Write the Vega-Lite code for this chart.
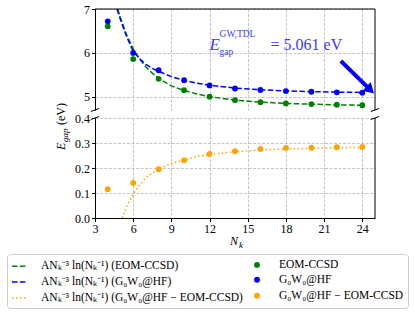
{
  "$schema": "https://vega.github.io/schema/vega-lite/v6.json",
  "padding": {"left": 6, "top": 3, "right": 6, "bottom": 6},
  "spacing": 8,
  "bounds": "flush",
  "config": {
    "view": {"stroke": null},
    "axis": {"labelFont": "Liberation Serif", "labelFontSize": 12, "labelColor": "#000", "tickColor": "#000", "domainColor": "#000", "gridColor": "#b8b8b8", "gridDash": [3, 1.5], "gridWidth": 0.8, "tickSize": 3.5, "labelPadding": 2, "labelOverlap": false, "labelFlush": false},
    "legend": {"orient": "none", "legendX": -88, "legendY": 245, "columns": 2, "labelFont": "Liberation Serif", "labelFontSize": 11.5, "labelColor": "#000", "labelLimit": 400, "labelOffset": 14, "rowPadding": 1, "columnPadding": 6, "padding": 4, "strokeColor": "#cccccc", "fillColor": "#ffffff", "cornerRadius": 3, "symbolStrokeWidth": 1.5, "symbolOpacity": 1}
  },
  "datasets": {
    "fitTop": [
      {"Nk": 4.78, "E": 7.0, "series": "ANₖ⁻³ ln(Nₖ⁻¹) (EOM-CCSD)"},
      {"Nk": 5.0, "E": 6.8, "series": "ANₖ⁻³ ln(Nₖ⁻¹) (EOM-CCSD)"},
      {"Nk": 5.5, "E": 6.4, "series": "ANₖ⁻³ ln(Nₖ⁻¹) (EOM-CCSD)"},
      {"Nk": 6.0, "E": 6.09, "series": "ANₖ⁻³ ln(Nₖ⁻¹) (EOM-CCSD)"},
      {"Nk": 6.5, "E": 5.86, "series": "ANₖ⁻³ ln(Nₖ⁻¹) (EOM-CCSD)"},
      {"Nk": 7.0, "E": 5.68, "series": "ANₖ⁻³ ln(Nₖ⁻¹) (EOM-CCSD)"},
      {"Nk": 7.5, "E": 5.54, "series": "ANₖ⁻³ ln(Nₖ⁻¹) (EOM-CCSD)"},
      {"Nk": 8, "E": 5.42, "series": "ANₖ⁻³ ln(Nₖ⁻¹) (EOM-CCSD)"},
      {"Nk": 9, "E": 5.25, "series": "ANₖ⁻³ ln(Nₖ⁻¹) (EOM-CCSD)"},
      {"Nk": 10, "E": 5.145, "series": "ANₖ⁻³ ln(Nₖ⁻¹) (EOM-CCSD)"},
      {"Nk": 11, "E": 5.065, "series": "ANₖ⁻³ ln(Nₖ⁻¹) (EOM-CCSD)"},
      {"Nk": 12, "E": 5.005, "series": "ANₖ⁻³ ln(Nₖ⁻¹) (EOM-CCSD)"},
      {"Nk": 14, "E": 4.925, "series": "ANₖ⁻³ ln(Nₖ⁻¹) (EOM-CCSD)"},
      {"Nk": 16, "E": 4.879, "series": "ANₖ⁻³ ln(Nₖ⁻¹) (EOM-CCSD)"},
      {"Nk": 18, "E": 4.85, "series": "ANₖ⁻³ ln(Nₖ⁻¹) (EOM-CCSD)"},
      {"Nk": 20, "E": 4.832, "series": "ANₖ⁻³ ln(Nₖ⁻¹) (EOM-CCSD)"},
      {"Nk": 22, "E": 4.818, "series": "ANₖ⁻³ ln(Nₖ⁻¹) (EOM-CCSD)"},
      {"Nk": 24, "E": 4.808, "series": "ANₖ⁻³ ln(Nₖ⁻¹) (EOM-CCSD)"},
      {"Nk": 4.73, "E": 7.0, "series": "ANₖ⁻³ ln(Nₖ⁻¹) (G₀W₀@HF)"},
      {"Nk": 5.0, "E": 6.76, "series": "ANₖ⁻³ ln(Nₖ⁻¹) (G₀W₀@HF)"},
      {"Nk": 5.5, "E": 6.36, "series": "ANₖ⁻³ ln(Nₖ⁻¹) (G₀W₀@HF)"},
      {"Nk": 6.0, "E": 6.04, "series": "ANₖ⁻³ ln(Nₖ⁻¹) (G₀W₀@HF)"},
      {"Nk": 6.5, "E": 5.87, "series": "ANₖ⁻³ ln(Nₖ⁻¹) (G₀W₀@HF)"},
      {"Nk": 7.0, "E": 5.74, "series": "ANₖ⁻³ ln(Nₖ⁻¹) (G₀W₀@HF)"},
      {"Nk": 7.5, "E": 5.65, "series": "ANₖ⁻³ ln(Nₖ⁻¹) (G₀W₀@HF)"},
      {"Nk": 8, "E": 5.58, "series": "ANₖ⁻³ ln(Nₖ⁻¹) (G₀W₀@HF)"},
      {"Nk": 9, "E": 5.46, "series": "ANₖ⁻³ ln(Nₖ⁻¹) (G₀W₀@HF)"},
      {"Nk": 10, "E": 5.375, "series": "ANₖ⁻³ ln(Nₖ⁻¹) (G₀W₀@HF)"},
      {"Nk": 11, "E": 5.31, "series": "ANₖ⁻³ ln(Nₖ⁻¹) (G₀W₀@HF)"},
      {"Nk": 12, "E": 5.265, "series": "ANₖ⁻³ ln(Nₖ⁻¹) (G₀W₀@HF)"},
      {"Nk": 14, "E": 5.2, "series": "ANₖ⁻³ ln(Nₖ⁻¹) (G₀W₀@HF)"},
      {"Nk": 16, "E": 5.16, "series": "ANₖ⁻³ ln(Nₖ⁻¹) (G₀W₀@HF)"},
      {"Nk": 18, "E": 5.135, "series": "ANₖ⁻³ ln(Nₖ⁻¹) (G₀W₀@HF)"},
      {"Nk": 20, "E": 5.118, "series": "ANₖ⁻³ ln(Nₖ⁻¹) (G₀W₀@HF)"},
      {"Nk": 22, "E": 5.107, "series": "ANₖ⁻³ ln(Nₖ⁻¹) (G₀W₀@HF)"},
      {"Nk": 24, "E": 5.1, "series": "ANₖ⁻³ ln(Nₖ⁻¹) (G₀W₀@HF)"}
    ],
    "ptsTop": [
      {"Nk": 4, "E": 6.605, "series": "EOM-CCSD"},
      {"Nk": 6, "E": 5.86, "series": "EOM-CCSD"},
      {"Nk": 8, "E": 5.41, "series": "EOM-CCSD"},
      {"Nk": 10, "E": 5.15, "series": "EOM-CCSD"},
      {"Nk": 12, "E": 5.004, "series": "EOM-CCSD"},
      {"Nk": 14, "E": 4.923, "series": "EOM-CCSD"},
      {"Nk": 16, "E": 4.879, "series": "EOM-CCSD"},
      {"Nk": 18, "E": 4.85, "series": "EOM-CCSD"},
      {"Nk": 20, "E": 4.834, "series": "EOM-CCSD"},
      {"Nk": 22, "E": 4.82, "series": "EOM-CCSD"},
      {"Nk": 24, "E": 4.81, "series": "EOM-CCSD"},
      {"Nk": 4, "E": 6.72, "series": "G₀W₀@HF"},
      {"Nk": 6, "E": 6.0, "series": "G₀W₀@HF"},
      {"Nk": 8, "E": 5.605, "series": "G₀W₀@HF"},
      {"Nk": 10, "E": 5.38, "series": "G₀W₀@HF"},
      {"Nk": 12, "E": 5.26, "series": "G₀W₀@HF"},
      {"Nk": 14, "E": 5.19, "series": "G₀W₀@HF"},
      {"Nk": 16, "E": 5.155, "series": "G₀W₀@HF"},
      {"Nk": 18, "E": 5.13, "series": "G₀W₀@HF"},
      {"Nk": 20, "E": 5.115, "series": "G₀W₀@HF"},
      {"Nk": 22, "E": 5.103, "series": "G₀W₀@HF"},
      {"Nk": 24, "E": 5.095, "series": "G₀W₀@HF"}
    ],
    "fitDiff": [
      {"Nk": 5.14, "E": 0.0, "series": "ANₖ⁻³ ln(Nₖ⁻¹) (G₀W₀@HF − EOM-CCSD)"},
      {"Nk": 5.5, "E": 0.048, "series": "ANₖ⁻³ ln(Nₖ⁻¹) (G₀W₀@HF − EOM-CCSD)"},
      {"Nk": 6.0, "E": 0.095, "series": "ANₖ⁻³ ln(Nₖ⁻¹) (G₀W₀@HF − EOM-CCSD)"},
      {"Nk": 6.5, "E": 0.132, "series": "ANₖ⁻³ ln(Nₖ⁻¹) (G₀W₀@HF − EOM-CCSD)"},
      {"Nk": 7.0, "E": 0.161, "series": "ANₖ⁻³ ln(Nₖ⁻¹) (G₀W₀@HF − EOM-CCSD)"},
      {"Nk": 7.5, "E": 0.18, "series": "ANₖ⁻³ ln(Nₖ⁻¹) (G₀W₀@HF − EOM-CCSD)"},
      {"Nk": 8, "E": 0.195, "series": "ANₖ⁻³ ln(Nₖ⁻¹) (G₀W₀@HF − EOM-CCSD)"},
      {"Nk": 9, "E": 0.218, "series": "ANₖ⁻³ ln(Nₖ⁻¹) (G₀W₀@HF − EOM-CCSD)"},
      {"Nk": 10, "E": 0.233, "series": "ANₖ⁻³ ln(Nₖ⁻¹) (G₀W₀@HF − EOM-CCSD)"},
      {"Nk": 11, "E": 0.246, "series": "ANₖ⁻³ ln(Nₖ⁻¹) (G₀W₀@HF − EOM-CCSD)"},
      {"Nk": 12, "E": 0.254, "series": "ANₖ⁻³ ln(Nₖ⁻¹) (G₀W₀@HF − EOM-CCSD)"},
      {"Nk": 14, "E": 0.265, "series": "ANₖ⁻³ ln(Nₖ⁻¹) (G₀W₀@HF − EOM-CCSD)"},
      {"Nk": 16, "E": 0.272, "series": "ANₖ⁻³ ln(Nₖ⁻¹) (G₀W₀@HF − EOM-CCSD)"},
      {"Nk": 18, "E": 0.276, "series": "ANₖ⁻³ ln(Nₖ⁻¹) (G₀W₀@HF − EOM-CCSD)"},
      {"Nk": 20, "E": 0.279, "series": "ANₖ⁻³ ln(Nₖ⁻¹) (G₀W₀@HF − EOM-CCSD)"},
      {"Nk": 22, "E": 0.281, "series": "ANₖ⁻³ ln(Nₖ⁻¹) (G₀W₀@HF − EOM-CCSD)"},
      {"Nk": 24, "E": 0.282, "series": "ANₖ⁻³ ln(Nₖ⁻¹) (G₀W₀@HF − EOM-CCSD)"}
    ],
    "ptsDiff": [
      {"Nk": 4, "E": 0.115, "series": "G₀W₀@HF − EOM-CCSD"},
      {"Nk": 6, "E": 0.14, "series": "G₀W₀@HF − EOM-CCSD"},
      {"Nk": 8, "E": 0.195, "series": "G₀W₀@HF − EOM-CCSD"},
      {"Nk": 10, "E": 0.231, "series": "G₀W₀@HF − EOM-CCSD"},
      {"Nk": 12, "E": 0.256, "series": "G₀W₀@HF − EOM-CCSD"},
      {"Nk": 14, "E": 0.267, "series": "G₀W₀@HF − EOM-CCSD"},
      {"Nk": 16, "E": 0.276, "series": "G₀W₀@HF − EOM-CCSD"},
      {"Nk": 18, "E": 0.28, "series": "G₀W₀@HF − EOM-CCSD"},
      {"Nk": 20, "E": 0.281, "series": "G₀W₀@HF − EOM-CCSD"},
      {"Nk": 22, "E": 0.283, "series": "G₀W₀@HF − EOM-CCSD"},
      {"Nk": 24, "E": 0.284, "series": "G₀W₀@HF − EOM-CCSD"}
    ]
  },
  "vconcat": [
    {
      "width": 280,
      "height": 101,
      "layer": [
        {
          "data": {"name": "fitTop"},
          "mark": {"type": "line", "strokeWidth": 1.5, "clip": true},
          "encoding": {
            "x": {"field": "Nk", "type": "quantitative", "title": null, "scale": {"domain": [3, 25], "nice": false, "zero": false}, "axis": {"values": [3, 6, 9, 12, 15, 18, 21, 24], "tickCount": 8, "grid": true, "labels": false, "ticks": false, "domain": false}},
            "y": {"field": "E", "type": "quantitative", "title": null, "scale": {"domain": [4.7, 7], "nice": false, "zero": false}, "axis": {"values": [5, 6, 7], "tickCount": 3, "grid": true, "format": "d"}},
            "stroke": {"field": "series", "type": "nominal", "legend": {"title": null}, "scale": {"domain": ["ANₖ⁻³ ln(Nₖ⁻¹) (EOM-CCSD)", "ANₖ⁻³ ln(Nₖ⁻¹) (G₀W₀@HF)", "ANₖ⁻³ ln(Nₖ⁻¹) (G₀W₀@HF − EOM-CCSD)", "EOM-CCSD", "G₀W₀@HF", "G₀W₀@HF − EOM-CCSD"], "range": ["#008000", "#0000ff", "#ffa500", "transparent", "transparent", "transparent"]}},
            "strokeDash": {"field": "series", "type": "nominal", "legend": {"title": null}, "scale": {"type": "ordinal", "domain": ["ANₖ⁻³ ln(Nₖ⁻¹) (EOM-CCSD)", "ANₖ⁻³ ln(Nₖ⁻¹) (G₀W₀@HF)", "ANₖ⁻³ ln(Nₖ⁻¹) (G₀W₀@HF − EOM-CCSD)", "EOM-CCSD", "G₀W₀@HF", "G₀W₀@HF − EOM-CCSD"], "range": [[5.5, 2.4], [5.5, 2.4], [1.5, 2.5], [1, 0], [1, 0], [1, 0]]}}
          }
        },
        {
          "data": {"name": "ptsTop"},
          "mark": {"type": "point", "filled": true, "strokeWidth": 0, "opacity": 1},
          "encoding": {
            "x": {"field": "Nk", "type": "quantitative"},
            "y": {"field": "E", "type": "quantitative"},
            "fill": {"field": "series", "type": "nominal", "legend": {"title": null}, "scale": {"domain": ["ANₖ⁻³ ln(Nₖ⁻¹) (EOM-CCSD)", "ANₖ⁻³ ln(Nₖ⁻¹) (G₀W₀@HF)", "ANₖ⁻³ ln(Nₖ⁻¹) (G₀W₀@HF − EOM-CCSD)", "EOM-CCSD", "G₀W₀@HF", "G₀W₀@HF − EOM-CCSD"], "range": ["transparent", "transparent", "transparent", "#008000", "#0000ff", "#ffa500"]}},
            "shape": {"field": "series", "type": "nominal", "legend": {"title": null}, "scale": {"domain": ["ANₖ⁻³ ln(Nₖ⁻¹) (EOM-CCSD)", "ANₖ⁻³ ln(Nₖ⁻¹) (G₀W₀@HF)", "ANₖ⁻³ ln(Nₖ⁻¹) (G₀W₀@HF − EOM-CCSD)", "EOM-CCSD", "G₀W₀@HF", "G₀W₀@HF − EOM-CCSD"], "range": ["stroke", "stroke", "stroke", "circle", "circle", "circle"]}},
            "size": {"field": "series", "type": "nominal", "legend": {"title": null}, "scale": {"type": "ordinal", "domain": ["ANₖ⁻³ ln(Nₖ⁻¹) (EOM-CCSD)", "ANₖ⁻³ ln(Nₖ⁻¹) (G₀W₀@HF)", "ANₖ⁻³ ln(Nₖ⁻¹) (G₀W₀@HF − EOM-CCSD)", "EOM-CCSD", "G₀W₀@HF", "G₀W₀@HF − EOM-CCSD"], "range": [196, 196, 196, 34, 34, 34]}}
          }
        },
        {
          "data": {"values": [{}]},
          "mark": {"type": "rule", "color": "#000", "strokeWidth": 1},
          "encoding": {"y": {"datum": 7}}
        },
        {
          "data": {"values": [{}]},
          "mark": {"type": "rule", "color": "#000", "strokeWidth": 1},
          "encoding": {"x": {"datum": 25}}
        },
        {
          "data": {"values": [{}]},
          "mark": {"type": "rule", "color": "#000", "strokeWidth": 1, "clip": false},
          "encoding": {"x": {"datum": 2.67}, "x2": {"datum": 3.33}, "y": {"datum": 4.666}, "y2": {"datum": 4.734}}
        },
        {
          "data": {"values": [{}]},
          "mark": {"type": "rule", "color": "#000", "strokeWidth": 1, "clip": false},
          "encoding": {"x": {"datum": 24.67}, "x2": {"datum": 25.33}, "y": {"datum": 4.666}, "y2": {"datum": 4.734}}
        },
        {
          "data": {"values": [{}]},
          "mark": {"type": "rule", "color": "#0000ff", "strokeWidth": 4},
          "encoding": {"x": {"datum": 22.32}, "x2": {"datum": 24.63}, "y": {"datum": 5.815}, "y2": {"datum": 5.157}}
        },
        {
          "data": {"values": [{}]},
          "mark": {"type": "point", "shape": "triangle-right", "filled": true, "color": "#0000ff", "size": 140, "angle": 44, "opacity": 1, "clip": false},
          "encoding": {"x": {"datum": 24.63}, "y": {"datum": 5.157}}
        },
        {
          "data": {"values": [{}]},
          "mark": {"type": "text", "text": "E", "font": "Liberation Serif", "fontStyle": "italic", "fontSize": 17, "color": "#3c3cff", "align": "left", "baseline": "alphabetic"},
          "encoding": {"x": {"datum": 12}, "y": {"datum": 6.06}}
        },
        {
          "data": {"values": [{}]},
          "mark": {"type": "text", "text": "GW,TDL", "font": "Liberation Serif", "fontSize": 9.5, "color": "#3c3cff", "align": "left", "baseline": "alphabetic", "dx": 10, "dy": -13},
          "encoding": {"x": {"datum": 12}, "y": {"datum": 6.06}}
        },
        {
          "data": {"values": [{}]},
          "mark": {"type": "text", "text": "gap", "font": "Liberation Serif", "fontSize": 9.5, "color": "#3c3cff", "align": "left", "baseline": "alphabetic", "dx": 10, "dy": 5},
          "encoding": {"x": {"datum": 12}, "y": {"datum": 6.06}}
        },
        {
          "data": {"values": [{}]},
          "mark": {"type": "text", "text": "= 5.061 eV", "font": "Liberation Serif", "fontSize": 16, "color": "#3c3cff", "align": "left", "baseline": "alphabetic", "dx": 61},
          "encoding": {"x": {"datum": 12}, "y": {"datum": 6.06}}
        }
      ]
    },
    {
      "width": 280,
      "height": 100,
      "layer": [
        {
          "data": {"name": "fitDiff"},
          "mark": {"type": "line", "strokeWidth": 1.5, "clip": true},
          "encoding": {
            "x": {"field": "Nk", "type": "quantitative", "title": null, "scale": {"domain": [3, 25], "nice": false, "zero": false}, "axis": {"values": [3, 6, 9, 12, 15, 18, 21, 24], "tickCount": 8, "grid": true}},
            "y": {"field": "E", "type": "quantitative", "title": null, "scale": {"domain": [0, 0.4], "nice": false}, "axis": {"values": [0, 0.1, 0.2, 0.3, 0.4], "tickCount": 5, "grid": true, "format": ".1f"}},
            "stroke": {"field": "series", "type": "nominal", "legend": {"title": null}, "scale": {"domain": ["ANₖ⁻³ ln(Nₖ⁻¹) (EOM-CCSD)", "ANₖ⁻³ ln(Nₖ⁻¹) (G₀W₀@HF)", "ANₖ⁻³ ln(Nₖ⁻¹) (G₀W₀@HF − EOM-CCSD)", "EOM-CCSD", "G₀W₀@HF", "G₀W₀@HF − EOM-CCSD"], "range": ["#008000", "#0000ff", "#ffa500", "transparent", "transparent", "transparent"]}},
            "strokeDash": {"field": "series", "type": "nominal", "legend": {"title": null}, "scale": {"type": "ordinal", "domain": ["ANₖ⁻³ ln(Nₖ⁻¹) (EOM-CCSD)", "ANₖ⁻³ ln(Nₖ⁻¹) (G₀W₀@HF)", "ANₖ⁻³ ln(Nₖ⁻¹) (G₀W₀@HF − EOM-CCSD)", "EOM-CCSD", "G₀W₀@HF", "G₀W₀@HF − EOM-CCSD"], "range": [[5.5, 2.4], [5.5, 2.4], [1.5, 2.5], [1, 0], [1, 0], [1, 0]]}}
          }
        },
        {
          "data": {"name": "ptsDiff"},
          "mark": {"type": "point", "filled": true, "strokeWidth": 0, "opacity": 1},
          "encoding": {
            "x": {"field": "Nk", "type": "quantitative"},
            "y": {"field": "E", "type": "quantitative"},
            "fill": {"field": "series", "type": "nominal", "legend": {"title": null}, "scale": {"domain": ["ANₖ⁻³ ln(Nₖ⁻¹) (EOM-CCSD)", "ANₖ⁻³ ln(Nₖ⁻¹) (G₀W₀@HF)", "ANₖ⁻³ ln(Nₖ⁻¹) (G₀W₀@HF − EOM-CCSD)", "EOM-CCSD", "G₀W₀@HF", "G₀W₀@HF − EOM-CCSD"], "range": ["transparent", "transparent", "transparent", "#008000", "#0000ff", "#ffa500"]}},
            "shape": {"field": "series", "type": "nominal", "legend": {"title": null}, "scale": {"domain": ["ANₖ⁻³ ln(Nₖ⁻¹) (EOM-CCSD)", "ANₖ⁻³ ln(Nₖ⁻¹) (G₀W₀@HF)", "ANₖ⁻³ ln(Nₖ⁻¹) (G₀W₀@HF − EOM-CCSD)", "EOM-CCSD", "G₀W₀@HF", "G₀W₀@HF − EOM-CCSD"], "range": ["stroke", "stroke", "stroke", "circle", "circle", "circle"]}},
            "size": {"field": "series", "type": "nominal", "legend": {"title": null}, "scale": {"type": "ordinal", "domain": ["ANₖ⁻³ ln(Nₖ⁻¹) (EOM-CCSD)", "ANₖ⁻³ ln(Nₖ⁻¹) (G₀W₀@HF)", "ANₖ⁻³ ln(Nₖ⁻¹) (G₀W₀@HF − EOM-CCSD)", "EOM-CCSD", "G₀W₀@HF", "G₀W₀@HF − EOM-CCSD"], "range": [196, 196, 196, 34, 34, 34]}}
          }
        },
        {
          "data": {"values": [{}]},
          "mark": {"type": "rule", "color": "#000", "strokeWidth": 1},
          "encoding": {"x": {"datum": 25}}
        },
        {
          "data": {"values": [{}]},
          "mark": {"type": "rule", "color": "#000", "strokeWidth": 1, "clip": false},
          "encoding": {"x": {"datum": 2.67}, "x2": {"datum": 3.33}, "y": {"datum": 0.394}, "y2": {"datum": 0.406}}
        },
        {
          "data": {"values": [{}]},
          "mark": {"type": "rule", "color": "#000", "strokeWidth": 1, "clip": false},
          "encoding": {"x": {"datum": 24.67}, "x2": {"datum": 25.33}, "y": {"datum": 0.394}, "y2": {"datum": 0.406}}
        },
        {
          "data": {"values": [{}]},
          "mark": {"type": "text", "text": "E", "font": "Liberation Serif", "fontStyle": "italic", "fontSize": 12, "color": "#000", "align": "left", "baseline": "alphabetic", "angle": 270, "clip": false},
          "encoding": {"x": {"datum": 0.65}, "y": {"datum": 0.272}}
        },
        {
          "data": {"values": [{}]},
          "mark": {"type": "text", "text": "gap", "font": "Liberation Serif", "fontStyle": "italic", "fontSize": 9, "color": "#000", "align": "left", "baseline": "alphabetic", "angle": 270, "dx": 8, "dy": 3, "clip": false},
          "encoding": {"x": {"datum": 0.65}, "y": {"datum": 0.272}}
        },
        {
          "data": {"values": [{}]},
          "mark": {"type": "text", "text": "(eV)", "font": "Liberation Serif", "fontSize": 12, "color": "#000", "align": "left", "baseline": "alphabetic", "angle": 270, "dx": 25, "clip": false},
          "encoding": {"x": {"datum": 0.65}, "y": {"datum": 0.272}}
        },
        {
          "data": {"values": [{}]},
          "mark": {"type": "text", "text": "N", "font": "Liberation Serif", "fontStyle": "italic", "fontSize": 12, "color": "#000", "align": "left", "baseline": "alphabetic", "clip": false},
          "encoding": {"x": {"datum": 13.6}, "y": {"datum": -0.108}}
        },
        {
          "data": {"values": [{}]},
          "mark": {"type": "text", "text": "k", "font": "Liberation Serif", "fontStyle": "italic", "fontSize": 9, "color": "#000", "align": "left", "baseline": "alphabetic", "dx": 9, "dy": 2.5, "clip": false},
          "encoding": {"x": {"datum": 13.6}, "y": {"datum": -0.108}}
        }
      ]
    }
  ]
}
